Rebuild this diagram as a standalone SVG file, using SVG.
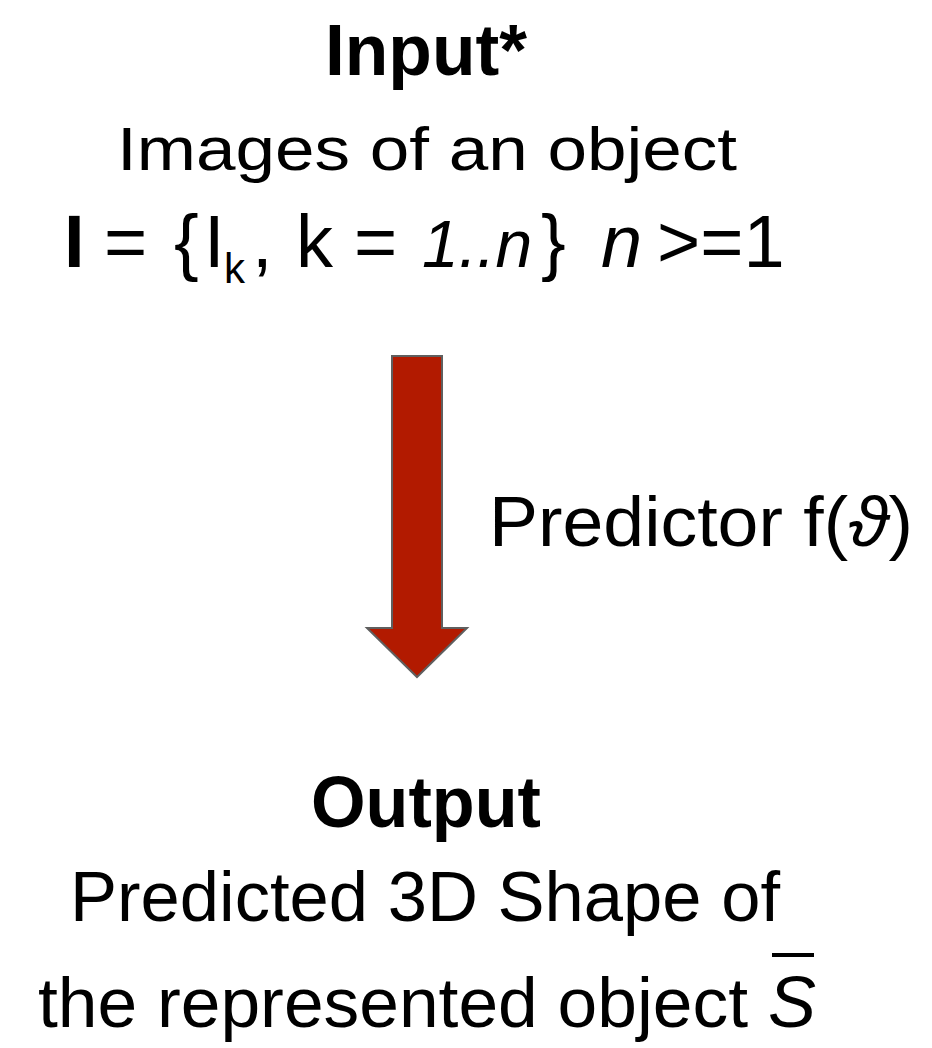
<svg xmlns="http://www.w3.org/2000/svg" width="932" height="1048" viewBox="0 0 932 1048">
  <style>
    text { font-family: "Liberation Sans", Arial, sans-serif; fill: #000; }
    .title { font-weight: bold; font-size: 72px; }
    .body { font-size: 70px; }
    .it { font-style: italic; }
    .arrow { fill: #b21a00; stroke: #5f5f5f; stroke-width: 2; stroke-linejoin: miter; }
  </style>
  <rect width="932" height="1048" fill="#ffffff"/>

  <g id="node-input">
    <text class="title" x="426" y="75" text-anchor="middle" textLength="202" lengthAdjust="spacingAndGlyphs">Input*</text>
    <text class="body" x="117" y="170" style="font-size:62px" textLength="620" lengthAdjust="spacingAndGlyphs">Images of an object</text>
    <text class="body" y="267" style="font-size:74px">
      <tspan x="64" font-weight="bold">I</tspan>
      <tspan x="104">=</tspan>
      <tspan x="174">{</tspan>
      <tspan x="204">I</tspan>
      <tspan x="224" y="283" style="font-size:42px">k</tspan>
      <tspan x="252" y="267">,</tspan>
      <tspan x="296">k</tspan>
      <tspan x="354">=</tspan>
      <tspan x="422" class="it" style="font-size:66px">1..n</tspan>
      <tspan x="541">}</tspan>
      <tspan x="601" class="it">n</tspan>
      <tspan x="657">&gt;=1</tspan>
    </text>
  </g>

  <g id="connectors">
    <polygon class="arrow" points="392,356 442,356 442,628 467,628 417,677 367,628 392,628"/>
  </g>

  <g id="label-predictor">
    <text class="body" x="489" y="546" textLength="424" lengthAdjust="spacingAndGlyphs">Predictor f(<tspan class="it">ϑ</tspan>)</text>
  </g>

  <g id="node-output">
    <text class="title" x="426" y="827" text-anchor="middle" textLength="230" lengthAdjust="spacingAndGlyphs">Output</text>
    <text class="body" x="70" y="921" textLength="710" lengthAdjust="spacingAndGlyphs">Predicted 3D Shape of</text>
    <text class="body" x="38" y="1027" textLength="710" lengthAdjust="spacingAndGlyphs">the represented object</text>
    <text class="body it" x="768" y="1027" style="font-size:72px">S</text>
    <line x1="772" y1="955" x2="814" y2="955" stroke="#000" stroke-width="4"/>
  </g>
</svg>
